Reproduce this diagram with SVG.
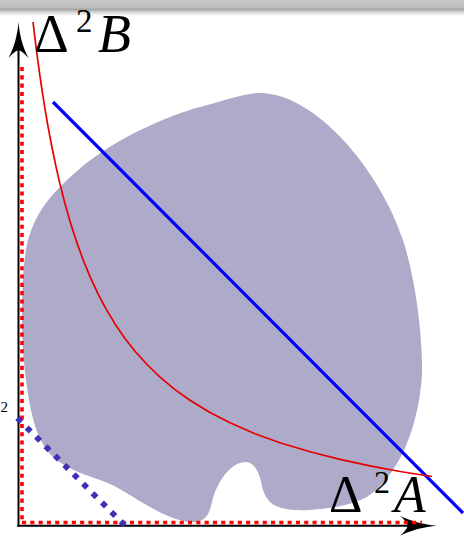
<svg xmlns="http://www.w3.org/2000/svg" width="464" height="536" viewBox="0 0 464 536">
<defs>
<linearGradient id="bar" x1="0" y1="0" x2="0" y2="1">
<stop offset="0" stop-color="#c9c9c9"/>
<stop offset="0.45" stop-color="#bebebe"/>
<stop offset="0.6" stop-color="#a6a6a6"/>
<stop offset="0.75" stop-color="#d4d4d4"/>
<stop offset="1" stop-color="#ffffff"/>
</linearGradient>
</defs>
<style>
.lab{font-family:"Liberation Serif","DejaVu Serif",serif;fill:#000}
.it{font-style:italic}
.axis{stroke:#000;stroke-width:2;fill:none}
.reddot{stroke:#f00;stroke-width:3.6;stroke-dasharray:4.1 4.2;fill:none}
</style>
<rect x="0" y="0" width="464" height="536" fill="#fff"/>
<rect x="0" y="0" width="464" height="16" fill="url(#bar)"/>
<g id="region">
<path fill="#aeaaca" d="M 260,93 C 315,93 380,170 403,240 C 414,275 421,320 422,363 C 423,390 415,425 407,443 C 400,462 385,485 367,497 C 350,506 330,508 310,510 C 292,511 278,509 270,502 C 263,495 262,485 260,478 C 257,468 252,462 246,462 C 232,462 220,478 214,495 C 210,507 210,521 195,522 C 180,523 163,514 150,507 C 135,499 120,487 100,480 C 85,475 65,468 53,457 C 42,447 35,430 31,410 C 26,385 22,355 22,320 C 22,290 23,260 28,240 C 35,215 47,200 60,187 C 75,172 88,161 102,152 C 130,133 170,115 200,107 C 225,100 245,93 260,93 Z"/>
</g>
<g id="axes">
<line class="axis" x1="18.5" y1="527" x2="18.5" y2="48"/>
<path d="M18.5,22 C19.5,35 23,48 28.5,58 C24,53 21,50.5 18.5,50.5 C16,50.5 13,53 8.5,58 C14,48 17.5,35 18.5,22 Z" fill="#000"/>
<line class="axis" x1="17.5" y1="525.7" x2="410" y2="525.7"/>
<path d="M437,525.7 C424,526.7 411,530.2 400,535.7 C405,531.2 407.5,528.2 407.5,525.7 C407.5,523.2 405,520.2 400,515.7 C411,521.2 424,524.7 437,525.7 Z" fill="#000"/>
<line class="reddot" x1="22" y1="67" x2="22" y2="522"/>
<line class="reddot" x1="22" y1="522.5" x2="422" y2="522.5"/>
</g>
<g id="curves">
<line x1="17.3" y1="418" x2="124.7" y2="525.3" stroke="#4030b8" stroke-width="5.66" stroke-dasharray="5.66 7.63"/>
<line x1="53" y1="102" x2="463" y2="513" stroke="#0000ff" stroke-width="3.2"/>
<polyline fill="none" stroke="#e60000" stroke-width="1.7" stroke-linejoin="round" points="33,22 34,30.2 35,38.5 36,46.6 38,61.9 40,76.3 42,89.9 45,108.9 48,126.3 52,147.5 56,166.7 60,184.1 65,203.7 70,221.3 76,240.1 83,259.5 90,276.6 98,293.8 106,308.9 115,323.9 125,338.4 135,351.2 147,364.5 160,377.1 175,389.6 190,400.3 210,412.5 230,422.8 255,433.7 280,442.7 310,451.8 340,459.4 370,465.9 400,471.5 432,476.5"/>
</g>
<g id="labels">
<text class="lab" x="0.5" y="412" font-size="15">2</text>
<text class="lab" x="34" y="52" font-size="54">Δ</text>
<text class="lab" x="76" y="32" font-size="33">2</text>
<text class="lab it" x="98" y="52" font-size="54">B</text>
<text class="lab" x="329" y="512" font-size="52">Δ</text>
<text class="lab" x="374" y="493" font-size="32">2</text>
<text class="lab it" x="394" y="512" font-size="52">A</text>
</g>
</svg>
